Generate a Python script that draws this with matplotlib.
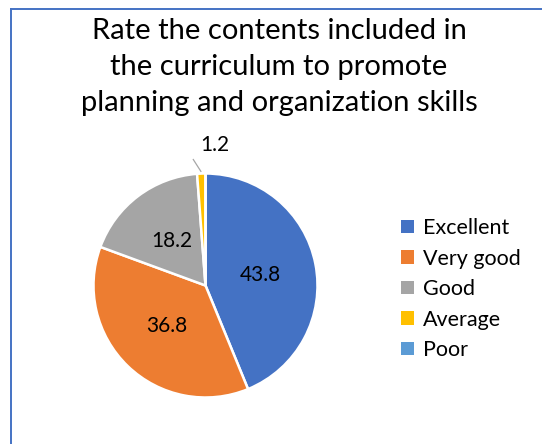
import numpy as np
import matplotlib
matplotlib.use("Agg")
import matplotlib.pyplot as plt
from matplotlib.lines import Line2D
from matplotlib.patches import Patch

# ---- data ----
title_lines = ["Rate the contents included in",
               "the curriculum to promote",
               "planning and organization skills"]
categories = ["Excellent", "Very good", "Good", "Average", "Poor"]
values = [43.8, 36.8, 18.2, 1.2, 0.0]
value_labels = ["43.8", "36.8", "18.2", "1.2", ""]

colors = ["#4472C4", "#ED7D31", "#A5A5A5", "#FFC000", "#5B9BD5"]

plt.rcParams['font.family'] = ['Lato', 'DejaVu Sans']

W, H = 542, 444
fig = plt.figure(figsize=(W / 100, H / 100), dpi=100)
fig.patch.set_facecolor("white")

# pie axes: center (205.5, 285.5) px from top-left, radius 112 px
R = 112.0
cx, cy = 205.5, 285.5
span = 1.3
ax = fig.add_axes([(cx - span * R) / W, (H - cy - span * R) / H,
                   2 * span * R / W, 2 * span * R / H])
wedges, _ = ax.pie(values, colors=colors, startangle=90, counterclock=False,
                   radius=1.0,
                   wedgeprops=dict(edgecolor="white", linewidth=1.8))
ax.set_xlim(-span, span)
ax.set_ylim(-span, span)
ax.set_aspect("equal")
ax.axis("off")

# data labels
for w, lab, v in zip(wedges, value_labels, values):
    if not lab:
        continue
    mid = np.deg2rad((w.theta1 + w.theta2) / 2)
    if v >= 5:
        r = 0.5
        ax.text(r * np.cos(mid), r * np.sin(mid), lab, ha="center", va="center",
                fontsize=15, color="black")
    else:
        # outside label with leader line
        tr, tang = 1.258, mid - np.deg2rad(6.0)
        ax.text(tr * np.cos(tang), tr * np.sin(tang), lab, ha="center", va="center",
                fontsize=15, color="black", clip_on=False)
        r0, r1 = 1.015, 1.135
        a1 = mid + np.deg2rad(3.5)
        ax.plot([r0 * np.cos(mid), r1 * np.cos(a1)], [r0 * np.sin(mid), r1 * np.sin(a1)],
                color="#A6A6A6", lw=0.9, clip_on=False, solid_capstyle="butt")

# title lines (baselines)
baselines = [39, 75, 111]
for line, by in zip(title_lines, baselines):
    fig.text(279 / W, 1 - by / H, line, ha="center", va="baseline",
             fontsize=21, color="black")

# legend
handles = [Patch(facecolor=c, edgecolor="none") for c in colors]
leg = fig.legend(handles, categories, loc="upper left",
                 bbox_to_anchor=(401 / W, 1 - 218 / H), frameon=False,
                 fontsize=15.5, handlelength=0.6, handleheight=0.6,
                 handletextpad=0.42, labelspacing=0.49, borderpad=0,
                 borderaxespad=0)

# chart border (left and top edges visible)
fig.add_artist(Line2D([10.5 / W, 10.5 / W], [0, 1 - 9.5 / H],
                      transform=fig.transFigure, color="#4472C4", lw=1.4))
fig.add_artist(Line2D([10.5 / W, 1], [1 - 9.5 / H, 1 - 9.5 / H],
                      transform=fig.transFigure, color="#4472C4", lw=1.4))

fig.savefig("out.png", dpi=100)
